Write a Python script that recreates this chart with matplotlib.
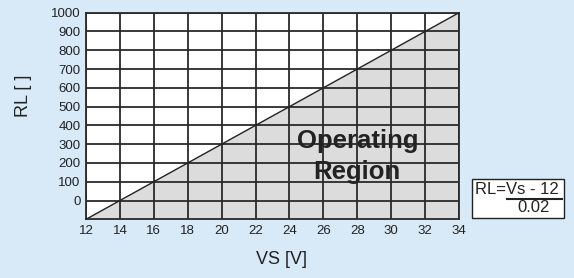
import matplotlib.pyplot as plt
from matplotlib import font_manager
from matplotlib.patches import Rectangle
from matplotlib.lines import Line2D

# pick the regular Liberation Sans file (not the Narrow one)
arial = None
for f in font_manager.fontManager.ttflist:
    if f.fname.endswith('LiberationSans-Regular.ttf'):
        arial = f.fname
if arial:
    nome = font_manager.FontProperties(fname=arial).get_name()
else:
    nome = 'DejaVu Sans'
plt.rcParams['font.family'] = [nome, 'DejaVu Sans']

# data
vs = [12, 34]
rl = [-100, 1000]
xticks = [12, 14, 16, 18, 20, 22, 24, 26, 28, 30, 32, 34]
yticks = [0, 100, 200, 300, 400, 500, 600, 700, 800, 900, 1000]

bg = '#d8eaf8'
fig = plt.figure(figsize=(5.74, 2.78), dpi=100, facecolor=bg)
ax = fig.add_axes([86 / 574, 1 - 219.3 / 278, 373 / 574, 206.6 / 278])
ax.set_facecolor('white')

ax.fill_between(vs, rl, -100, color='#dcdcdc', zorder=1)
ax.plot(vs, rl, color='#222222', lw=1.0, zorder=3)

ax.set_xlim(12, 34)
ax.set_ylim(-100, 1000)
ax.set_xticks(xticks)
ax.set_yticks(yticks)
ax.tick_params(length=0, labelsize=9.5, colors='#222222', pad=4)
ax.grid(True, color='#2a2a2a', lw=1.3, zorder=2)
ax.set_axisbelow(False)
for s in ax.spines.values():
    s.set_color('#2a2a2a')
    s.set_linewidth(1.3)

ax.text(28, 280, 'Operating', ha='center', va='baseline', fontsize=18.5,
        fontweight='bold', color='#222222', zorder=4)
ax.text(28, 115, 'Region', ha='center', va='baseline', fontsize=18.5,
        fontweight='bold', color='#222222', zorder=4)

fig.text(0.041, 0.655, 'RL [ ]', rotation=90, ha='center', va='center', fontsize=13, color='#222222')
fig.text(0.49, 0.068, 'VS [V]', ha='center', va='center', fontsize=13, color='#222222')

# formula box
fig.patches.append(Rectangle((472 / 574, 1 - 218 / 278), 92 / 574, 39 / 278, transform=fig.transFigure,
                             facecolor='white', edgecolor='#222222', lw=1.0))
fig.text(475 / 574, 0.317, 'RL=Vs - 12', ha='left', va='center', fontsize=12, color='#222222')
fig.text(534 / 574, 0.252, '0.02', ha='center', va='center', fontsize=12, color='#222222')
fig.lines.append(Line2D([507 / 574, 562 / 574], [1 - 199 / 278, 1 - 199 / 278], transform=fig.transFigure,
                        color='#222222', lw=1.5))

fig.savefig('out.png', dpi=100, facecolor=bg)
